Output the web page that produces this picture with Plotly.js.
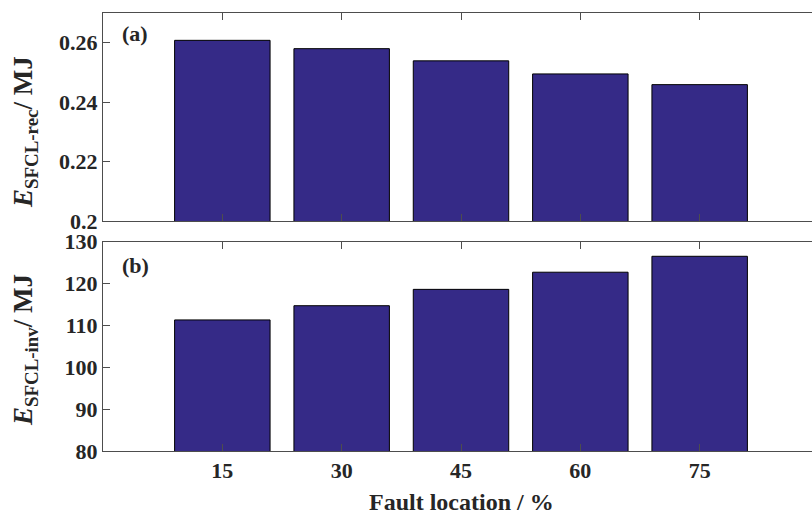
<!DOCTYPE html>
<html>
<head>
<meta charset="utf-8">
<script src="https://cdn.plot.ly/plotly-3.0.1.min.js"></script>
<style>
html,body{margin:0;padding:0;overflow:hidden;background:#fff;}
#chart{width:822px;height:515px;}
</style>
</head>
<body>
<div id="chart"></div>
<script>
// Data
const faultLocations = [15, 30, 45, 60, 75];
const recEnergy = [0.2608, 0.2580, 0.2539, 0.2495, 0.2459];   // E_SFCL-rec / MJ
const invEnergy = [111.3, 114.7, 118.6, 122.7, 126.5];        // E_SFCL-inv / MJ
const recTickVals = [0.2, 0.22, 0.24, 0.26];
const recTickText = ['0.2', '0.22', '0.24', '0.26'];
const invTickVals = [80, 90, 100, 110, 120, 130];
const xTickText = ['15', '30', '45', '60', '75'];

const barColor = '#352a87';
const axisColor = '#4d4d4d';
const textColor = '#262626';
const fontFamily = 'Liberation Serif, Times New Roman, serif';

const traces = [
  {type: 'bar', x: faultLocations, y: recEnergy, xaxis: 'x', yaxis: 'y', width: 12,
   marker: {color: barColor, line: {color: '#000', width: 1}}, hoverinfo: 'x+y'},
  {type: 'bar', x: faultLocations, y: invEnergy, xaxis: 'x2', yaxis: 'y2', width: 12,
   marker: {color: barColor, line: {color: '#000', width: 1}}, hoverinfo: 'x+y'}
];

const commonX = {
  range: [0, 90], tickvals: faultLocations, ticktext: xTickText,
  ticks: 'inside', ticklen: 7, tickcolor: axisColor, tickwidth: 1,
  showline: true, linecolor: axisColor, linewidth: 1, mirror: 'ticks',
  showgrid: false, zeroline: false, fixedrange: true
};
const commonY = {
  ticks: 'inside', ticklen: 7, tickcolor: axisColor, tickwidth: 1,
  showline: true, linecolor: axisColor, linewidth: 1, mirror: 'ticks',
  showgrid: false, zeroline: false, fixedrange: true
};

const layout = {
  width: 822, height: 515,
  margin: {l: 103, r: 3, t: 13, b: 64},
  paper_bgcolor: '#fff', plot_bgcolor: '#fff',
  showlegend: false,
  font: {family: fontFamily, size: 22, color: textColor},
  xaxis: Object.assign({}, commonX, {anchor: 'y', showticklabels: false}),
  yaxis: Object.assign({}, commonY, {domain: [0.525, 1], range: [0.2, 0.27],
    tickvals: recTickVals, ticktext: recTickText, anchor: 'x'}),
  xaxis2: Object.assign({}, commonX, {anchor: 'y2', showticklabels: true}),
  yaxis2: Object.assign({}, commonY, {domain: [0, 0.478], range: [80, 130],
    tickvals: invTickVals, anchor: 'x2'}),
  annotations: [
    {xref: 'paper', yref: 'paper', x: 0.5, y: (451 - 502) / 438, xanchor: 'center', yanchor: 'middle',
     showarrow: false, borderpad: 0, font: {size: 24, family: fontFamily, color: textColor},
     text: '<b>Fault location / %</b>'},
    {xref: 'paper', yref: 'paper', x: (25 - 103) / 716, y: (451 - 132) / 438, xanchor: 'center', yanchor: 'middle',
     textangle: -90, showarrow: false, font: {size: 27, family: fontFamily, color: textColor},
     text: '<b><i>E</i><sub>SFCL-rec</sub>/ MJ</b>'},
    {xref: 'paper', yref: 'paper', x: (25 - 103) / 716, y: (451 - 350) / 438, xanchor: 'center', yanchor: 'middle',
     textangle: -90, showarrow: false, font: {size: 27, family: fontFamily, color: textColor},
     text: '<b><i>E</i><sub>SFCL-inv</sub>/ MJ</b>'},
    {xref: 'paper', yref: 'paper', x: (120 - 103) / 716, y: (451 - 33) / 438, xanchor: 'left', yanchor: 'middle',
     showarrow: false, font: {size: 22, family: fontFamily, color: textColor}, text: '<b>(a)</b>'},
    {xref: 'paper', yref: 'paper', x: (120 - 103) / 716, y: (451 - 265) / 438, xanchor: 'left', yanchor: 'middle',
     showarrow: false, font: {size: 22, family: fontFamily, color: textColor}, text: '<b>(b)</b>'}
  ]
};

// bold tick labels
['xaxis', 'xaxis2', 'yaxis', 'yaxis2'].forEach(k => {
  layout[k].tickfont = {family: fontFamily, size: 22, color: textColor, weight: 'bold'};
});

Plotly.newPlot('chart', traces, layout, {displayModeBar: false, staticPlot: true});
</script>
</body>
</html>
